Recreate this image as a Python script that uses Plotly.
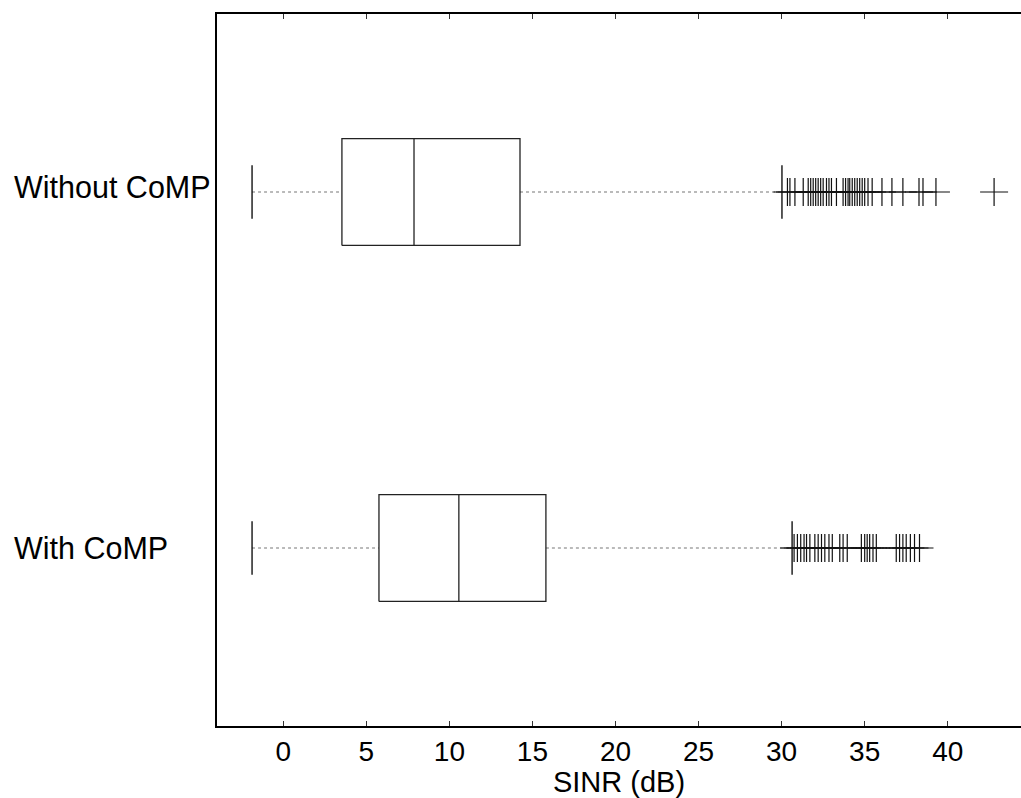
import plotly.graph_objects as go

# Summary statistics of SINR (dB) per scheme
groups = ["Without CoMP", "With CoMP"]
group_pos = [2, 1]
lower_whisker = [-1.88, -1.88]
q1 = [3.53, 5.76]
median = [7.87, 10.57]
q3 = [14.25, 15.81]
upper_whisker = [30.02, 30.63]

# Outlying samples beyond the upper whisker
outliers_without = [
    30.35, 30.5, 30.8, 31.3, 31.6, 31.75, 31.9, 32.05, 32.2, 32.35, 32.5,
    32.7, 32.85, 33.0, 33.3, 33.7, 33.85, 34.0, 34.1, 34.25, 34.4, 34.55,
    34.7, 34.85, 35.0, 35.2, 35.45, 36.04, 36.64, 37.3, 38.27, 38.51,
    39.29, 42.79,
]
outliers_with = [
    30.75, 30.95, 31.15, 31.35, 31.5, 31.7, 32.0, 32.2, 32.4, 32.6, 32.85,
    33.05, 33.5, 33.7, 33.95, 34.8, 35.0, 35.15, 35.3, 35.5, 35.7, 36.9,
    37.1, 37.3, 37.5, 37.75, 38.0, 38.3,
]
outliers = [outliers_without, outliers_with]

x_ticks = [0, 5, 10, 15, 20, 25, 30, 35, 40]

FONT = "Liberation Sans, Arial, sans-serif"
BOX_HALF = 0.15
CAP_HALF = 0.075
LINE = "#222222"

fig = go.Figure()

for name, c, lw, a, m, b, uw, outs in zip(groups, group_pos, lower_whisker, q1,
                                          median, q3, upper_whisker, outliers):
    # whiskers (dotted)
    for xs in ([lw, a], [b, uw]):
        fig.add_trace(go.Scatter(x=xs, y=[c, c], mode="lines",
                                 line=dict(color="#777777", width=1.2, dash="dot"),
                                 hoverinfo="skip", showlegend=False))
    # whisker end caps
    for xv in (lw, uw):
        fig.add_trace(go.Scatter(x=[xv, xv], y=[c - CAP_HALF, c + CAP_HALF],
                                 mode="lines", line=dict(color="black", width=1.3),
                                 hoverinfo="skip", showlegend=False))
    # box
    fig.add_trace(go.Scatter(
        x=[a, b, b, a, a],
        y=[c - BOX_HALF, c - BOX_HALF, c + BOX_HALF, c + BOX_HALF, c - BOX_HALF],
        mode="lines", line=dict(color=LINE, width=1.3),
        hoverinfo="skip", showlegend=False))
    # median
    fig.add_trace(go.Scatter(x=[m, m], y=[c - BOX_HALF, c + BOX_HALF], mode="lines",
                             line=dict(color=LINE, width=1.3),
                             hoverinfo="skip", showlegend=False))
    # outliers
    fig.add_trace(go.Scatter(x=outs, y=[c] * len(outs), mode="markers",
                             marker=dict(symbol="cross-thin", size=20,
                                         line=dict(color="#111111", width=1.2)),
                             hoverinfo="skip", showlegend=False))
    # group label, left-aligned near the figure edge
    fig.add_annotation(x=0, xref="paper", y=c, yref="y", text=name,
                       showarrow=False, xanchor="left", yanchor="middle",
                       xshift=-205, yshift=5 if c == 2 else 0,
                       font=dict(family=FONT, size=30.5, color="black"))

fig.update_layout(
    width=1021, height=798,
    margin=dict(l=217, r=0, t=14, b=72),
    paper_bgcolor="white", plot_bgcolor="white",
    font=dict(family=FONT, size=28, color="black"),
    showlegend=False,
)
fig.update_xaxes(
    range=[-3.99, 44.41], tickvals=x_ticks, ticktext=[str(t) for t in x_ticks],
    ticks="inside", ticklen=5, tickwidth=1.2, tickcolor="#333333",
    showline=True, linecolor="black", linewidth=1.5, mirror="ticks",
    showgrid=False, zeroline=False,
    title=dict(text="SINR (dB)", standoff=6, font=dict(size=29)),
    tickfont=dict(size=28),
)
fig.update_yaxes(
    range=[0.5, 2.5], showticklabels=False, ticks="",
    showline=True, linecolor="black", linewidth=1.5, mirror=False,
    showgrid=False, zeroline=False,
)

fig.write_html("out.html")
